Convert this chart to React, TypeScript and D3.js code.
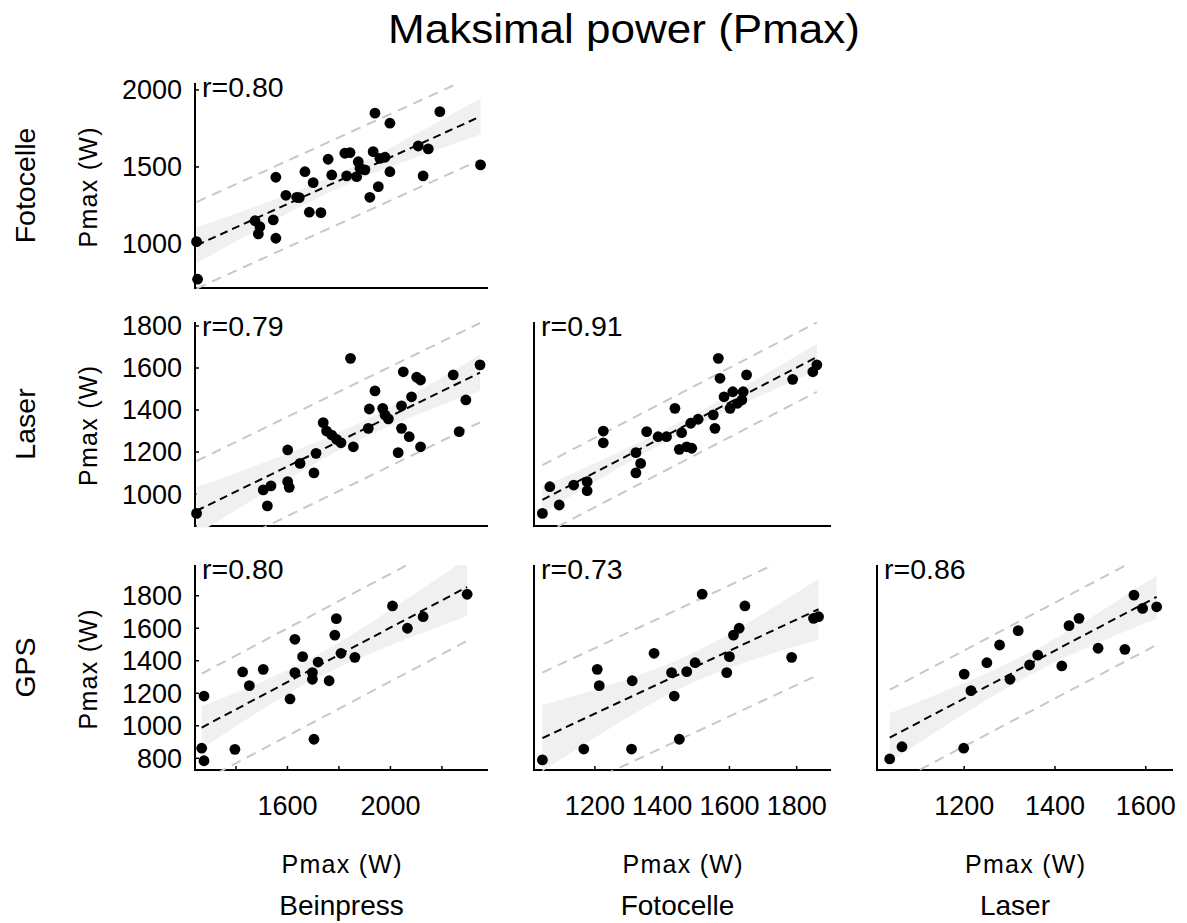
import React from 'react';
import * as d3 from 'd3';

const TITLE = 'Maksimal power (Pmax)';
const ROW_LABELS = ['Fotocelle', 'Laser', 'GPS'];
const COL_LABELS = ['Beinpress', 'Fotocelle', 'Laser'];
const AXIS_LABEL = 'Pmax (W)';

// axis limits per column (x) and per row (y)
const X_LIMITS = [[1241, 2379], [1019, 1902], [1008, 1660]];
const Y_LIMITS = [[714, 2045], [848, 1819], [728, 1989]];
const X_TICKS = [[1400, 1600, 1800, 2000, 2200], [1200, 1400, 1600, 1800], [1200, 1400, 1600]];
const X_TICK_LABELS = [[1600, 2000], [1200, 1400, 1600, 1800], [1200, 1400, 1600]];
const Y_TICKS = [[1000, 1500, 2000], [1000, 1200, 1400, 1600, 1800], [800, 1000, 1200, 1400, 1600, 1800]];

// Row 1: Beinpress (x) vs Fotocelle (y)
const beinpressFotocelle: [number, number][] = [
  [1247, 1015], [1251, 771], [1474, 1151], [1493, 1112], [1487, 1065], [1545, 1156], [1555, 1037],
  [1555, 1433], [1594, 1316], [1636, 1303], [1646, 1301], [1668, 1469], [1685, 1206], [1700, 1398],
  [1730, 1203], [1758, 1550], [1772, 1448], [1823, 1589], [1843, 1593], [1830, 1442], [1869, 1437],
  [1875, 1534], [1882, 1492], [1901, 1481], [1920, 1303], [1940, 1849], [1933, 1599], [1953, 1372],
  [1959, 1556], [1979, 1563], [1998, 1784], [1998, 1469], [2108, 1636], [2127, 1442], [2147, 1617],
  [2192, 1859], [2350, 1513],
];
// Row 2: Beinpress (x) vs Laser (y)
const beinpressLaser: [number, number][] = [
  [1247, 908], [1506, 1020], [1522, 944], [1536, 1039], [1601, 1210], [1601, 1059], [1607, 1032],
  [1649, 1146], [1703, 1101], [1711, 1194], [1739, 1340], [1752, 1300], [1772, 1281], [1791, 1260],
  [1808, 1244], [1845, 1646], [1856, 1225], [1914, 1313], [1918, 1405], [1940, 1491], [1970, 1408],
  [1979, 1377], [1992, 1358], [2030, 1197], [2050, 1582], [2043, 1420], [2043, 1313], [2073, 1273],
  [2082, 1463], [2102, 1556], [2117, 1543], [2117, 1225], [2244, 1567], [2267, 1297], [2293, 1448],
  [2348, 1615],
];
// Row 2: Fotocelle (x) vs Laser (y)
const fotocelleLaser: [number, number][] = [
  [1044, 908], [1066, 1035], [1094, 948], [1137, 1043], [1177, 1059], [1177, 1016], [1225, 1300],
  [1225, 1244], [1322, 1197], [1336, 1146], [1322, 1101], [1354, 1297], [1388, 1273], [1413, 1273],
  [1438, 1408], [1458, 1292], [1451, 1213], [1473, 1225], [1488, 1218], [1485, 1337], [1507, 1356],
  [1552, 1377], [1557, 1313], [1567, 1646], [1572, 1551], [1584, 1463], [1602, 1408], [1610, 1487],
  [1624, 1432], [1637, 1448], [1641, 1487], [1651, 1567], [1788, 1546], [1848, 1582], [1860, 1615],
];
// Row 3: Beinpress (x) vs GPS (y)
const beinpressGps: [number, number][] = [
  [1267, 862], [1276, 785], [1276, 1183], [1396, 855], [1426, 1331], [1452, 1247], [1506, 1347],
  [1610, 1165], [1629, 1532], [1629, 1327], [1659, 1425], [1697, 1327], [1697, 1286], [1703, 917],
  [1719, 1392], [1762, 1277], [1784, 1558], [1790, 1659], [1808, 1446], [1862, 1421], [2008, 1737],
  [2066, 1600], [2127, 1671], [2298, 1809],
];
// Row 3: Fotocelle (x) vs GPS (y)
const fotocelleGps: [number, number][] = [
  [1044, 790], [1167, 857], [1207, 1347], [1213, 1247], [1309, 857], [1311, 1277], [1376, 1446],
  [1428, 1327], [1436, 1183], [1451, 917], [1473, 1333], [1498, 1388], [1519, 1810], [1592, 1327],
  [1600, 1425], [1612, 1558], [1629, 1600], [1646, 1737], [1785, 1421], [1850, 1661], [1865, 1671],
];
// Row 3: Laser (x) vs GPS (y)
const laserGps: [number, number][] = [
  [1036, 796], [1063, 871], [1199, 862], [1200, 1318], [1215, 1216], [1250, 1388], [1278, 1497],
  [1301, 1286], [1319, 1585], [1344, 1374], [1362, 1435], [1415, 1368], [1431, 1616], [1453, 1661],
  [1495, 1477], [1554, 1470], [1574, 1804], [1593, 1722], [1624, 1732],
];

const R_LABELS = ['r=0.80', 'r=0.79', 'r=0.91', 'r=0.80', 'r=0.73', 'r=0.86'];

const PANELS = [
  { row: 0, col: 0, data: beinpressFotocelle, r: R_LABELS[0] },
  { row: 1, col: 0, data: beinpressLaser, r: R_LABELS[1] },
  { row: 1, col: 1, data: fotocelleLaser, r: R_LABELS[2] },
  { row: 2, col: 0, data: beinpressGps, r: R_LABELS[3] },
  { row: 2, col: 1, data: fotocelleGps, r: R_LABELS[4] },
  { row: 2, col: 2, data: laserGps, r: R_LABELS[5] },
];

// ---------- layout (pixels) ----------
const W = 1187;
const H = 923;
const COL_X = [[195, 488], [534, 831], [877, 1173]];
const ROW_Y = [[83, 288], [322, 526], [565, 770]];
const FONT = "'Liberation Sans', Arial, Helvetica, sans-serif";

function fit(pts: [number, number][]) {
  const n = pts.length;
  const mx = d3.mean(pts, (d) => d[0]) as number;
  const my = d3.mean(pts, (d) => d[1]) as number;
  let sxx = 0;
  let sxy = 0;
  pts.forEach(([x, y]) => {
    sxx += (x - mx) * (x - mx);
    sxy += (x - mx) * (y - my);
  });
  const b = sxy / sxx;
  const a = my - b * mx;
  const sse = d3.sum(pts, (d) => (d[1] - a - b * d[0]) ** 2);
  const s = Math.sqrt(sse / (n - 2));
  return { a, b, s, n, mx, sxx };
}

function Panel({ row, col, data, r }: { row: number; col: number; data: [number, number][]; r: string }) {
  const [x0, x1] = COL_X[col];
  const [y0, y1] = ROW_Y[row];
  const xs = d3.scaleLinear().domain(X_LIMITS[col]).range([x0, x1]);
  const ys = d3.scaleLinear().domain(Y_LIMITS[row]).range([y1, y0]);
  const f = fit(data);
  const ext = d3.extent(data, (d) => d[0]) as [number, number];
  const t = 2.03;
  const samples = d3.range(0, 61).map((i) => ext[0] + ((ext[1] - ext[0]) * i) / 60);
  const half = (x: number) => t * f.s * Math.sqrt(1 / f.n + ((x - f.mx) ** 2) / f.sxx);
  const yhat = (x: number) => f.a + f.b * x;
  const band = d3
    .area<number>()
    .x((x) => xs(x))
    .y0((x) => ys(yhat(x) - half(x)))
    .y1((x) => ys(yhat(x) + half(x)))(samples);
  const line = d3.line<[number, number]>().x((d) => xs(d[0])).y((d) => ys(d[1]));
  const reg = line([[ext[0], yhat(ext[0])], [ext[1], yhat(ext[1])]]);
  const pi = 1.96 * f.s;
  const up = line([[ext[0], yhat(ext[0]) + pi], [ext[1], yhat(ext[1]) + pi]]);
  const lo = line([[ext[0], yhat(ext[0]) - pi], [ext[1], yhat(ext[1]) - pi]]);
  const clipId = `clip-${row}-${col}`;
  const isBottom = row === 2;
  const isLeft = col === 0;
  return (
    <g>
      <defs>
        <clipPath id={clipId}>
          <rect x={x0} y={y0} width={x1 - x0} height={y1 - y0 + 1.5} />
        </clipPath>
      </defs>
      <line x1={x0} y1={y0} x2={x0} y2={y1} stroke="#000" strokeWidth={2} />
      <line x1={x0 - 1} y1={y1} x2={x1} y2={y1} stroke="#000" strokeWidth={2} />
      {isLeft &&
        Y_TICKS[row].map((v) => (
          <g key={`yt${v}`}>
            <line x1={x0} x2={x0 + 4} y1={ys(v)} y2={ys(v)} stroke="#000" strokeWidth={1.5} />
            <text x={x0 - 13} y={ys(v)} dy="0.35em" textAnchor="end" fontSize={27} fontFamily={FONT}>
              {v}
            </text>
          </g>
        ))}
      {isBottom &&
        X_TICKS[col].map((v) => (
          <line key={`xt${v}`} x1={xs(v)} x2={xs(v)} y1={y1} y2={y1 - 4} stroke="#000" strokeWidth={1.5} />
        ))}
      {isBottom &&
        X_TICK_LABELS[col].map((v) => (
          <text key={`xl${v}`} x={xs(v)} y={815} textAnchor="middle" fontSize={27} fontFamily={FONT}>
            {v}
          </text>
        ))}
      <g clipPath={`url(#${clipId})`}>
        <path d={band || ''} fill="#f0f0f0" />
        <path d={up || ''} stroke="#c8c8c8" strokeWidth={2} strokeDasharray="10,7" fill="none" />
        <path d={lo || ''} stroke="#c8c8c8" strokeWidth={2} strokeDasharray="10,7" fill="none" />
        <path d={reg || ''} stroke="#000" strokeWidth={2} strokeDasharray="8,5" fill="none" />
      </g>
      {data.map((d, i) => (
        <circle key={i} cx={xs(d[0])} cy={ys(d[1])} r={5.4} fill="#000" />
      ))}
      <text x={x0 + 7} y={y0 + 14} fontSize={28.5} fontFamily={FONT}>
        {r}
      </text>
    </g>
  );
}

export default function App() {
  const colCenters = COL_X.map(([a, b]) => (a + b) / 2);
  const rowCenters = ROW_Y.map(([a, b]) => (a + b) / 2);
  return (
    <svg
      width={W}
      height={H}
      viewBox={`0 0 ${W} ${H}`}
      style={{ position: 'absolute', left: 0, top: 0, background: '#fff' }}
    >
      <rect x={0} y={0} width={W} height={H} fill="#fff" />
      <text x={624} y={43} textAnchor="middle" fontSize={40} fontFamily={FONT} textLength={472} lengthAdjust="spacingAndGlyphs">
        {TITLE}
      </text>
      {ROW_LABELS.map((lab, i) => (
        <text key={lab + i} transform={`translate(35,${rowCenters[i]}) rotate(-90)`} textAnchor="middle" fontSize={28.5} fontFamily={FONT}>
          {lab}
        </text>
      ))}
      {ROW_LABELS.map((_, i) => (
        <text key={'yl' + i} transform={`translate(97,${rowCenters[i] + 2}) rotate(-90)`} textAnchor="middle" fontSize={25} fontFamily={FONT} textLength={120} lengthAdjust="spacing">
          {AXIS_LABEL}
        </text>
      ))}
      {COL_LABELS.map((lab, i) => (
        <g key={'c' + i}>
          <text x={colCenters[i]} y={873} textAnchor="middle" fontSize={25} fontFamily={FONT} textLength={120} lengthAdjust="spacing">
            {AXIS_LABEL}
          </text>
          <text x={colCenters[i] - i * 5} y={915} textAnchor="middle" fontSize={28} fontFamily={FONT}>
            {lab}
          </text>
        </g>
      ))}
      {PANELS.map((p) => (
        <Panel key={`${p.row}-${p.col}`} {...p} />
      ))}
    </svg>
  );
}
